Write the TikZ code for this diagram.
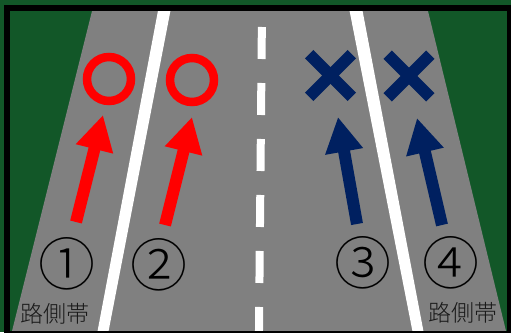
\documentclass[tikz,border=0pt]{standalone}
\usepackage{fontspec}
\newfontfamily\jp{Noto Sans CJK JP}
\newfontfamily\jplight{Noto Sans CJK JP Light}
\usetikzlibrary{arrows.meta}
\definecolor{grass}{RGB}{18,87,40}
\definecolor{road}{RGB}{128,128,128}
\definecolor{navy}{RGB}{0,32,96}
\definecolor{okred}{RGB}{255,0,0}
\tikzset{
  ring/.style={draw=okred, line width=8.5pt},
  crossbar/.style={draw=navy, line width=12pt},
  redarrow/.style={draw=okred, line width=12pt, -{Triangle[width=36pt,length=35pt]}},
  bluearrow/.style={draw=navy, line width=12pt, -{Triangle[width=36pt,length=35pt]}},
  numlabel/.style={font=\jplight\fontsize{57}{57}\selectfont, inner sep=0pt, text=black},
  sidelabel/.style={font=\jplight\fontsize{23}{23}\selectfont, inner sep=0pt, text=black!90},
}
\begin{document}
\begin{tikzpicture}[x=1pt,y=-1pt]
\useasboundingbox (0,0) rectangle (511,332);
\fill[grass] (0,0) rectangle (511,332);
% road
\fill[road] (92.75,8) -- (11.25,334) -- (506.75,334) -- (427.25,8) -- cycle;
% white edge lines
\fill[white] (158.5,8) -- (171,8) -- (108,334) -- (97,334) -- cycle;
\fill[white] (349,8) -- (362,8) -- (424,334) -- (413,334) -- cycle;
% center dashed line
\coordinate (ctop) at (262,11);
\coordinate (cbot) at (258.9,340);
\draw[white, line width=8pt, dash pattern=on 32pt off 24pt, dash phase=40pt] (ctop) -- (cbot);
% frame
\draw[black, line width=6pt] (7,8) rectangle (510,334);
% circles
\draw[ring] (109,79) circle[radius=22];
\draw[ring] (192,80) circle[radius=22];
% crosses
\foreach \cx/\cy in {330.5/75.5, 409/76}{
  \draw[crossbar] (\cx-21.3,\cy-21.3) -- (\cx+21.3,\cy+21.3);
  \draw[crossbar] (\cx-21.3,\cy+21.3) -- (\cx+21.3,\cy-21.3);
}
% arrows
\coordinate (t1) at (76,222); \coordinate (h1) at (103,115);
\coordinate (t2) at (165,225); \coordinate (h2) at (192,117);
\coordinate (t3) at (357,224); \coordinate (h3) at (338,117);
\coordinate (t4) at (442,225); \coordinate (h4) at (417,118);
\draw[redarrow] (t1) -- (h1);
\draw[redarrow] (t2) -- (h2);
\draw[bluearrow] (t3) -- (h3);
\draw[bluearrow] (t4) -- (h4);
% numbers
\node[numlabel] (n1) at (67,264) {①};
\node[numlabel] (n2) at (159,265) {②};
\node[numlabel] (n3) at (363,263) {③};
\node[numlabel] (n4) at (451,263) {④};
\node[sidelabel] (s1) at (55,314) {路側帯};
\node[sidelabel] (s2) at (463,313) {路側帯};
\end{tikzpicture}
\end{document}
